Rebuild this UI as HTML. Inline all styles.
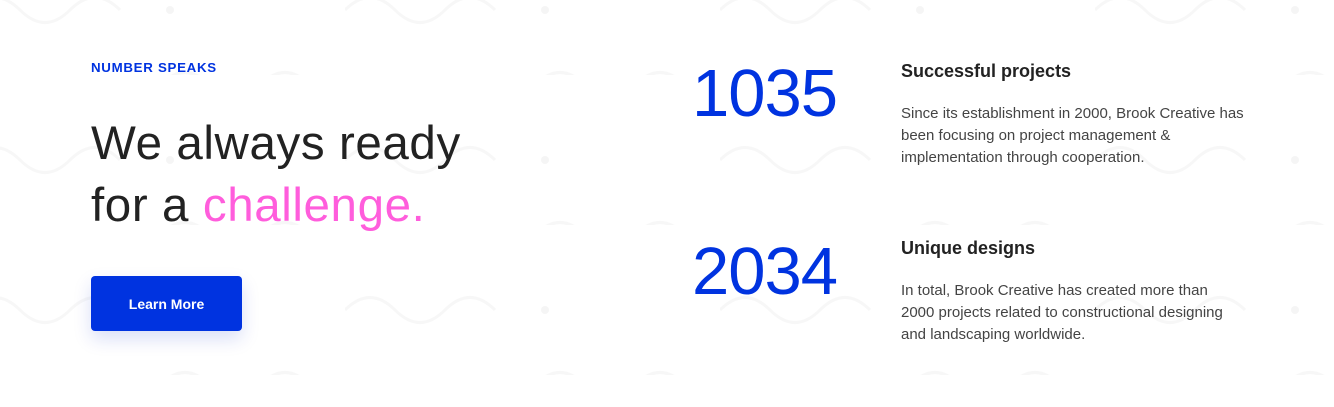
<!DOCTYPE html>
<html><head><meta charset="utf-8"><style>
body{margin:0;width:1334px;height:407px;overflow:hidden;background:#fff;font-family:"Liberation Sans",sans-serif;position:relative}
.bg{position:absolute;left:0;top:0}
.abs{position:absolute;margin:0}
.kicker{left:91px;top:60px;font-size:13.3px;font-weight:bold;color:#0033e0;letter-spacing:.7px}
.h{left:91px;top:113px;font-size:47.5px;line-height:62px;color:#222;font-weight:normal;letter-spacing:.6px}
.h span{color:#ff5ddc}
.btn{left:91px;top:276px;width:151px;height:55px;background:#0033e0;border-radius:4px;color:#fff;font-size:14px;font-weight:bold;display:flex;align-items:center;justify-content:center;box-shadow:0 8px 18px rgba(0,40,200,.15)}
.num{left:692px;font-size:67px;color:#0033e0;font-weight:normal;letter-spacing:-1px;line-height:1}
.t{left:901px;font-size:18px;font-weight:bold;color:#222}
.p{left:901px;font-size:15px;line-height:22px;color:#444;width:420px;white-space:nowrap}
</style></head><body>
<svg class="bg" width="1334" height="407">
<defs><pattern id="w" width="375" height="150" patternUnits="userSpaceOnUse" x="-30" y="-75">
<path d="M0 85 q25 -25 50 0 t50 0 t50 0" fill="none" stroke="#f7f7f7" stroke-width="3"/>
<circle cx="200" cy="85" r="4" fill="#f5f5f5"/>
<path d="M190 160 q25 -25 50 0 t50 0 t50 0" fill="none" stroke="#f7f7f7" stroke-width="3"/>
<circle cx="20" cy="160" r="4" fill="#f5f5f5"/>
</pattern></defs>
<rect width="1334" height="407" fill="url(#w)"/>
</svg>
<p class="abs kicker">NUMBER SPEAKS</p>
<h2 class="abs h">We always ready<br>for a <span>challenge.</span></h2>
<div class="abs btn">Learn More</div>
<div class="abs num" style="top:60px">1035</div>
<div class="abs t" style="top:61px">Successful projects</div>
<p class="abs p" style="top:103px">Since its establishment in 2000, Brook Creative has<br>been focusing on project management &amp;<br>implementation through cooperation.</p>
<div class="abs num" style="top:238px">2034</div>
<div class="abs t" style="top:238px">Unique designs</div>
<p class="abs p" style="top:280px">In total, Brook Creative has created more than<br>2000 projects related to constructional designing<br>and landscaping worldwide.</p>
</body></html>
